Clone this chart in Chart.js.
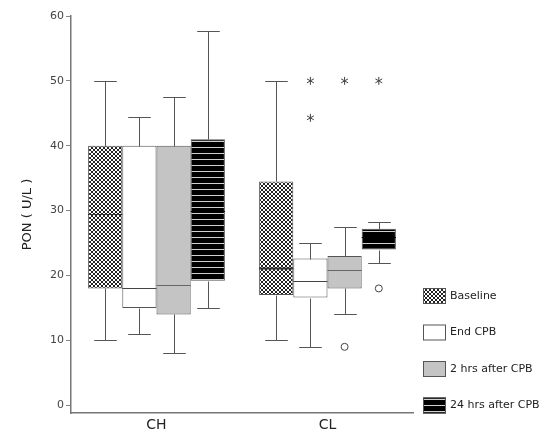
<!DOCTYPE html>
<html>
<head>
<meta charset="utf-8">
<script src="https://cdn.jsdelivr.net/npm/chart.js@4.4.1/dist/chart.umd.min.js"></script>
<style>
  html, body { margin: 0; padding: 0; background: #fff; }
  #wrap { width: 558px; height: 433px; }
</style>
</head>
<body>
<div id="wrap"><canvas id="ponChart"></canvas></div>
<script>
const groups = ['CH', 'CL'];
const seriesNames = ['Baseline', 'End CPB', '2 hrs after CPB', '24 hrs after CPB'];
// [lower whisker, Q1, median, Q3, upper whisker] for CH, CL
const baseline = [[10, 18, 29.5, 40, 50], [10, 17, 21.2, 34.5, 50]];
const endCpb = [[11, 15, 18, 40, 44.5], [9, 16.6, 19.2, 22.6, 25]];
const twoHrs = [[8, 14, 18.6, 40, 47.5], [14, 18, 20.8, 23, 27.4]];
const dayAfter = [[15, 19.2, 30, 41, 57.7], [22, 24, 26, 27.2, 28.2]];
// outliers: [series index, group index, value]
const starOutliers = [[1, 1, 50], [1, 1, 44.3], [2, 1, 50], [3, 1, 50]];
const circleOutliers = [[2, 1, 9], [3, 1, 18]];
const yTicks = [0, 10, 20, 30, 40, 50, 60];

const allStats = [baseline, endCpb, twoHrs, dayAfter];

let ctx = document.getElementById('ponChart').getContext('2d');

function makePattern(w, h, draw) {
    const c = document.createElement('canvas');
    c.width = w;
    c.height = h;
    draw(c.getContext('2d'));
    return ctx.createPattern(c, 'repeat');
}

// little diamond lattice for Baseline
const crossPattern = makePattern(4, 4, g => {
    g.fillStyle = '#fff';
    g.fillRect(0, 0, 4, 4);
    g.fillStyle = '#222';
    [[0, 0], [1, 1], [2, 2], [3, 3], [3, 0], [2, 1], [1, 2], [0, 3]].forEach(p => g.fillRect(p[0], p[1], 1, 1));
});
// black with white stripes for 24 hrs
const stripePattern = makePattern(2, 6, g => {
    g.fillStyle = '#000';
    g.fillRect(0, 0, 2, 6);
    g.fillStyle = '#d0d0d0';
    g.fillRect(0, 3, 2, 1);
});

const fills = [crossPattern, '#ffffff', '#c4c4c4', stripePattern];
const medianColors = ['#333', '#444', '#666', '#000'];

const boxPlugin = {
    id: 'boxWhiskers',
    afterDatasetsDraw(chart) {
        const c = chart.ctx;
        const y = v => Math.round(chart.scales.y.getPixelForValue(v)) + 0.5;
        const line = (x1, y1, x2, y2) => {
            c.beginPath();
            c.moveTo(x1, y1);
            c.lineTo(x2, y2);
            c.stroke();
        };
        c.save();
        allStats.forEach((stats, i) => {
            const meta = chart.getDatasetMeta(i);
            meta.data.forEach((bar, j) => {
                const s = stats[j];
                const x = Math.round(bar.x) + 0.5;
                const half = bar.width / 2;
                const cap = bar.width * 0.33;
                c.strokeStyle = '#555';
                c.lineWidth = 1;
                line(x, y(s[3]), x, y(s[4]));
                line(x - cap, y(s[4]), x + cap, y(s[4]));
                line(x, y(s[1]), x, y(s[0]));
                line(x - cap, y(s[0]), x + cap, y(s[0]));
                c.strokeStyle = medianColors[i];
                c.lineWidth = (i === 0 && j === 1) ? 2 : 1;
                line(bar.x - half, y(s[2]), bar.x + half, y(s[2]));
            });
        });

        c.strokeStyle = '#444';
        c.lineWidth = 1;
        starOutliers.forEach(o => {
            const bar = chart.getDatasetMeta(o[0]).data[o[1]];
            const px = bar.x, py = chart.scales.y.getPixelForValue(o[2]);
            for (let k = 0; k < 3; k++) {
                const a = Math.PI / 2 + k * Math.PI / 3;
                line(px - 4 * Math.cos(a), py - 4 * Math.sin(a), px + 4 * Math.cos(a), py + 4 * Math.sin(a));
            }
        });
        circleOutliers.forEach(o => {
            const bar = chart.getDatasetMeta(o[0]).data[o[1]];
            const px = bar.x, py = chart.scales.y.getPixelForValue(o[2]);
            c.beginPath();
            c.arc(px, py, 3.5, 0, Math.PI * 2);
            c.stroke();
        });
        c.restore();
    },
    afterDraw(chart) {
        // legend in the lower right corner
        const c = chart.ctx;
        c.save();
        c.font = '11px "DejaVu Sans"';
        c.textBaseline = 'middle';
        seriesNames.forEach((name, i) => {
            const cy = 296 + i * 36.5;
            c.fillStyle = fills[i];
            c.fillRect(423, cy - 8, 23, 16);
            c.strokeStyle = '#555';
            c.lineWidth = 1;
            c.strokeRect(423.5, cy - 7.5, 22, 15);
            c.fillStyle = '#222';
            c.fillText(name, 450, cy);
        });
        c.restore();
    }
};

let ponChart = new Chart(ctx, {
    type: 'bar',
    data: {
        labels: groups,
        datasets: allStats.map((stats, i) => ({
            label: seriesNames[i],
            data: stats.map(r => [r[1], r[3]]),
            backgroundColor: fills[i],
            borderColor: '#555',
            borderWidth: 1,
            borderSkipped: false,
            categoryPercentage: 0.8,
            barPercentage: 1
        }))
    },
    options: {
        responsive: true,
        maintainAspectRatio: false,
        animation: false,
        layout: {
            padding: { top: 16, right: 145, bottom: 0, left: 0 }
        },
        plugins: {
            legend: { display: false },
            tooltip: { enabled: false }
        },
        scales: {
            x: {
                grid: { display: false, drawTicks: false },
                border: { color: '#777', width: 1.5 },
                ticks: {
                    color: '#222',
                    padding: 4,
                    font: { family: 'DejaVu Sans', size: 14 }
                },
                afterFit: axis => { axis.height = 20; }
            },
            y: {
                min: -1.2,
                max: 60,
                afterBuildTicks: axis => {
                    axis.ticks = yTicks.map(v => ({ value: v }));
                },
                grid: {
                    drawOnChartArea: false,
                    tickLength: 5,
                    color: '#888'
                },
                border: { color: '#777', width: 1.5 },
                ticks: {
                    color: '#444',
                    padding: 2,
                    font: { family: 'DejaVu Sans', size: 11 }
                },
                title: {
                    display: true,
                    text: 'PON ( U/L )',
                    color: '#222',
                    font: { family: 'DejaVu Sans', size: 13 },
                    padding: { top: 20, bottom: 4 }
                },
                afterFit: axis => { axis.width = 71; }
            }
        }
    },
    plugins: [boxPlugin]
});
</script>
</body>
</html>
